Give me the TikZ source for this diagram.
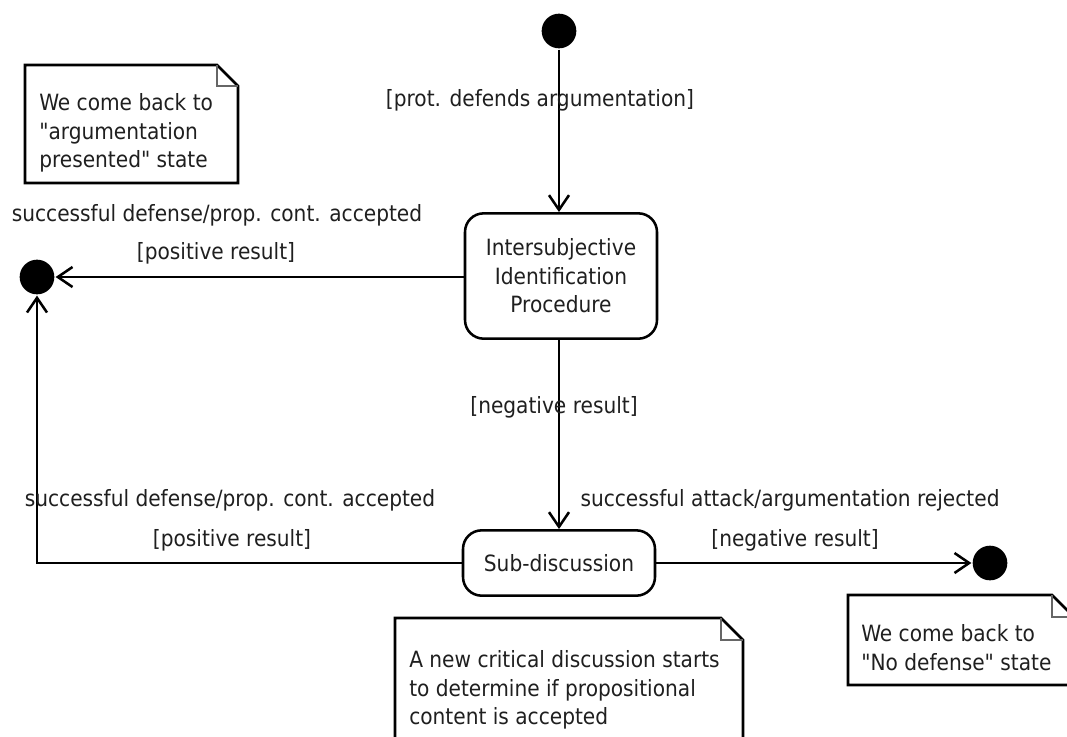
\documentclass[tikz,border=0pt]{standalone}
\usepackage{fontspec}
\setmainfont{DejaVu Sans Condensed}[Ligatures=TeXOff]
\usetikzlibrary{arrows.meta}
\begin{document}
\begin{tikzpicture}[x=0.75pt,y=-0.75pt,
  line width=1.9pt,
  txt/.style={font=\fontsize{16.8}{21.6}\selectfont, text=black!88, inner sep=0pt},
  statebox/.style={draw, rounded corners=14pt, minimum width=144pt, inner sep=0pt,
    align=center, font=\fontsize{16.8}{21.4}\selectfont, text=black!88},
  dot/.style={circle, fill=black, inner sep=0pt, minimum size=26pt},
  arr/.style={-{Straight Barb[length=11pt,width=15pt,line width=1.9pt]}},
  notefold/.style={line width=0.8pt, draw=black!60}]
\useasboundingbox (0,0) rectangle (1067,736);

% states
\node[dot] (start) at (559,31) {};
\node[dot] (endl) at (37,277) {};
\node[dot] (endr) at (990,563) {};
\node[statebox, minimum height=94pt] (isp) at (561,276)
  {Intersubjective\\Identification\\Procedure};
\node[statebox, minimum height=49pt] (sub) at (559,563) {Sub-discussion};

% transitions
\draw[arr] (start) -- (start |- isp.north);
\draw[arr] (isp.west |- endl) -- (endl);
\draw[arr] (isp.south -| sub.north) -- (sub.north);
\draw[arr] (sub.west) -| (endl);
\draw[arr] (sub.east) -- (endr);

% transition labels
\node[txt] (l1) at (540,100) {[prot. defends argumentation]};
\node[txt] (l2) at (217,215) {successful defense/prop. cont. accepted};
\node[txt] (l3) at (216,253) {[positive result]};
\node[txt] (l4) at (554,407) {[negative result]};
\node[txt] (l5) at (230,500) {successful defense/prop. cont. accepted};
\node[txt] (l6) at (232,540) {[positive result]};
\node[txt] (l7) at (790,500) {successful attack/argumentation rejected};
\node[txt] (l8) at (795,540) {[negative result]};

% notes with folded corner
\draw (25,65) -- (217,65) -- (238,86) -- (238,183) -- (25,183) -- cycle;
\draw[notefold] (217,65) -- (217,86) -- (238,86);
\node[txt, anchor=west, align=left] (n1) at (38,133)
  {We come back to\\"argumentation\\presented" state};

\draw (395,618) -- (721,618) -- (743,640) -- (743,770) -- (395,770) -- cycle;
\draw[notefold] (721,618) -- (721,640) -- (743,640);
\node[txt, anchor=west, align=left] (n2) at (408,690)
  {A new critical discussion starts\\to determine if propositional\\content is accepted};

\draw (848,595) -- (1052,595) -- (1074,617) -- (1074,685) -- (848,685) -- cycle;
\draw[notefold] (1052,595) -- (1052,617) -- (1074,617);
\node[txt, anchor=west, align=left] (n3) at (860,648)
  {We come back to\\"No defense" state};
\end{tikzpicture}
\end{document}
